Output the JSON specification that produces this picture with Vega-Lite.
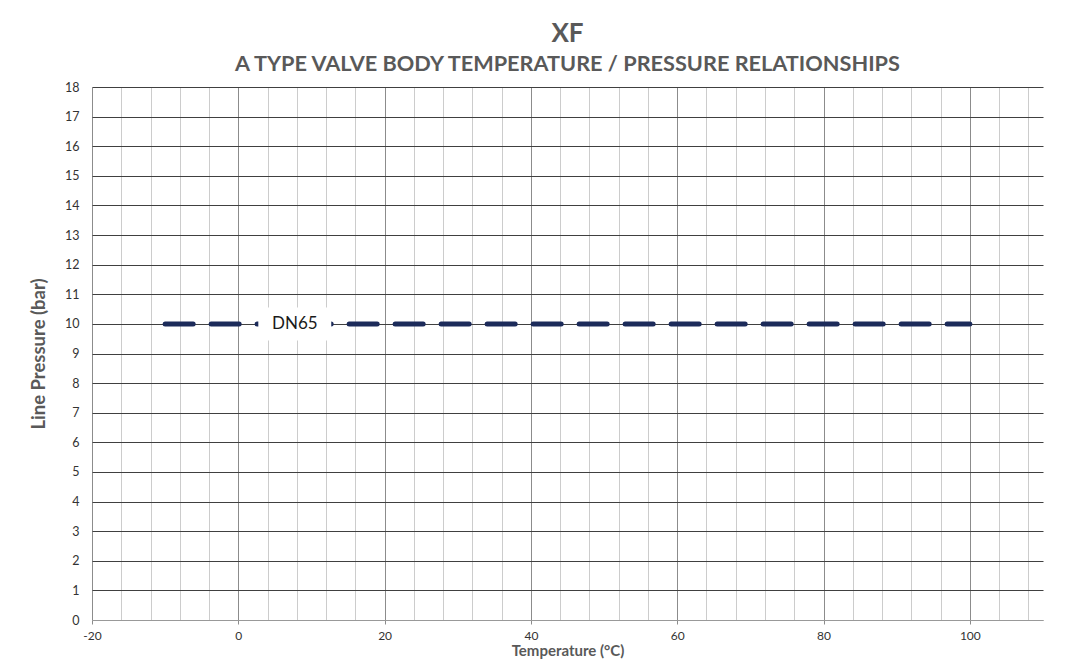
{
  "$schema": "https://vega.github.io/schema/vega-lite/v6.json",
  "width": 951,
  "height": 533,
  "autosize": {"type": "none"},
  "padding": {"left": 92, "top": 87, "right": 29, "bottom": 42},
  "background": "white",
  "title": {
    "text": "XF",
    "subtitle": "A TYPE VALVE BODY TEMPERATURE / PRESSURE RELATIONSHIPS",
    "anchor": "middle",
    "font": "Lato",
    "fontSize": 26,
    "fontWeight": "bold",
    "color": "#595959",
    "subtitleFont": "Lato",
    "subtitleFontSize": 21.7,
    "subtitleFontWeight": "bold",
    "subtitleColor": "#595959",
    "subtitlePadding": 7,
    "offset": 5
  },
  "config": {"view": {"stroke": null}, "font": "Lato"},
  "datasets": {
    "series": [
      {"temp": -10, "pressure": 10, "series": "DN65"},
      {"temp": 100, "pressure": 10, "series": "DN65"}
    ],
    "labels": [
      {"temp": 7.72, "pressure": 10, "label": "DN65"}
    ]
  },
  "layer": [
    {
      "data": {"name": "series"},
      "mark": {"type": "line", "color": "#1c2b5a", "strokeWidth": 5, "strokeDash": [28, 18], "strokeCap": "round"},
      "encoding": {
        "x": {
          "field": "temp",
          "type": "quantitative",
          "scale": {"domain": [-20, 110], "nice": false, "zero": false},
          "axis": {
            "values": [-20, -16, -12, -8, -4, 0, 4, 8, 12, 16, 20, 24, 28, 32, 36, 40, 44, 48, 52, 56, 60, 64, 68, 72, 76, 80, 84, 88, 92, 96, 100, 104, 108],
            "tickCount": 60,
            "title": "Temperature (°C)",
            "titleFont": "Lato",
            "titleFontSize": 15,
            "titleFontWeight": "bold",
            "titleColor": "#595959",
            "titlePadding": 2,
            "labelExpr": "datum.value % 20 === 0 ? '' + datum.value : ''",
            "labelFont": "Lato",
            "labelFontSize": 12,
            "labelColor": "#333333",
            "labelFlush": false,
            "labelOverlap": false,
            "labelPadding": 6,
            "grid": true,
            "gridColor": {"condition": {"test": "datum.value % 20 === 0", "value": "#8c8c8c"}, "value": "#cccccc"},
            "tickColor": {"condition": {"test": "datum.value % 20 === 0", "value": "#8c8c8c"}, "value": "transparent"},
            "tickSize": 4,
            "domainColor": "#999999"
          }
        },
        "y": {
          "field": "pressure",
          "type": "quantitative",
          "scale": {"domain": [0, 18], "nice": false, "zero": true},
          "axis": {
            "values": [0, 1, 2, 3, 4, 5, 6, 7, 8, 9, 10, 11, 12, 13, 14, 15, 16, 17, 18],
            "tickCount": 40,
            "labelExpr": "'' + datum.value",
            "title": "Line Pressure (bar)",
            "titleFont": "Lato",
            "titleFontSize": 18.5,
            "titleFontWeight": "bold",
            "titleColor": "#595959",
            "titlePadding": 16,
            "labelFont": "Lato",
            "labelFontSize": 12.5,
            "labelColor": "#333333",
            "labelPadding": 13,
            "labelOverlap": false,
            "ticks": false,
            "domain": false,
            "grid": true,
            "gridColor": {"condition": {"test": "datum.value === 0", "value": "#a0a0a0"}, "value": "#404040"}
          }
        }
      }
    },
    {
      "data": {"name": "labels"},
      "mark": {"type": "point", "shape": "M-2.21,-1H2.21V1H-2.21Z", "size": 1089, "filled": true, "color": "white", "opacity": 1, "strokeWidth": 0},
      "encoding": {
        "x": {"field": "temp", "type": "quantitative"},
        "y": {"field": "pressure", "type": "quantitative"}
      }
    },
    {
      "data": {"name": "labels"},
      "mark": {"type": "text", "font": "Lato", "fontSize": 17, "color": "#1a1a1a", "align": "center", "baseline": "middle"},
      "encoding": {
        "x": {"field": "temp", "type": "quantitative"},
        "y": {"field": "pressure", "type": "quantitative"},
        "text": {"field": "label"}
      }
    }
  ]
}
